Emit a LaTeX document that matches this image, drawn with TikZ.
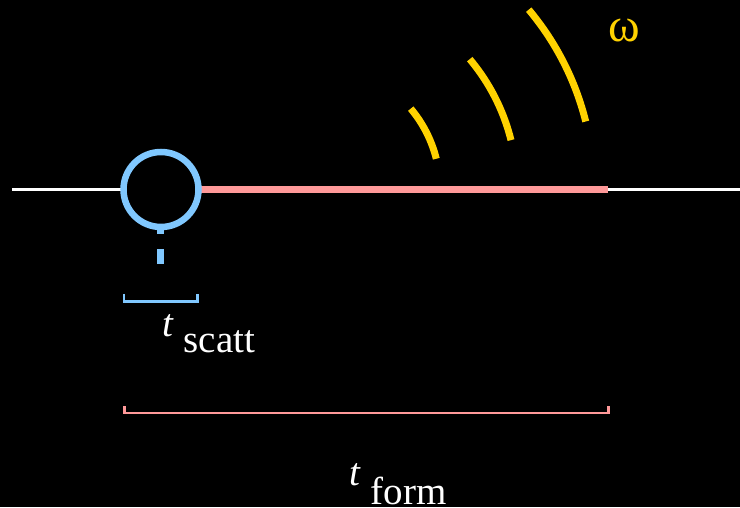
\documentclass[tikz,border=0pt]{standalone}
\usepackage{fontspec}
\setmainfont{Liberation Serif}
\definecolor{skyb}{RGB}{128,200,255}
\definecolor{pinkl}{RGB}{255,153,153}
\definecolor{gold}{RGB}{255,210,0}
\tikzset{
  wave/.style={gold, line width=7pt},
  brk/.style={line width=2.4pt},
  lbl/.style={white, anchor=base west, inner sep=0pt, font=\fontsize{39}{39}\selectfont}
}
\begin{document}
\begin{tikzpicture}[x=1pt,y=1pt]
\useasboundingbox[fill=black] (0,0) rectangle (740,507);
% main line
\coordinate (lstart) at (12,317.5);
\coordinate (lend) at (740,317.5);
\coordinate (cc) at (161,317.5);
\coordinate (pend) at (608,317.5);
\draw[white, line width=2.5pt] (lstart) -- (lend);
\draw[pinkl, line width=7.5pt] (cc) -- (pend);
% dashed stub
\coordinate (dtop) at (160.5,288);
\coordinate (dbot) at (160.5,243);
\draw[skyb, line width=7pt, dash pattern=on 15pt off 15pt] (dtop) -- (dbot);
% scattering circle
\node[circle, draw=skyb, line width=6.5pt, fill=black, minimum size=75pt, inner sep=0pt] (scat) at (cc) {};
% radiation arcs
\coordinate (wc) at (315,318);
\draw[wave] (wc) ++(14:125) arc[start angle=14, end angle=40, radius=125];
\draw[wave] (wc) ++(14:202) arc[start angle=14, end angle=40, radius=202];
\draw[wave] (wc) ++(14:279) arc[start angle=14, end angle=40, radius=279];
\node[gold, anchor=base west, inner sep=0pt, font=\fontsize{48}{48}\selectfont] (om) at (608,465) {ω};
% brackets
\coordinate (bs1) at (124,213);
\coordinate (bs2) at (197.5,213);
\draw[skyb, brk] (bs1) -- ++(0,-7.5) -| (bs2);
\coordinate (bf1) at (124.3,101);
\coordinate (bf2) at (608.3,101);
\draw[pinkl, brk] (bf1) -- ++(0,-7) -| (bf2);
% labels
\node[lbl] (ts) at (162,171) {\textit{t} \raisebox{-17pt}{scatt}};
\node[lbl] (tf) at (349,22) {\textit{t} \raisebox{-19pt}{form}};
\end{tikzpicture}
\end{document}
